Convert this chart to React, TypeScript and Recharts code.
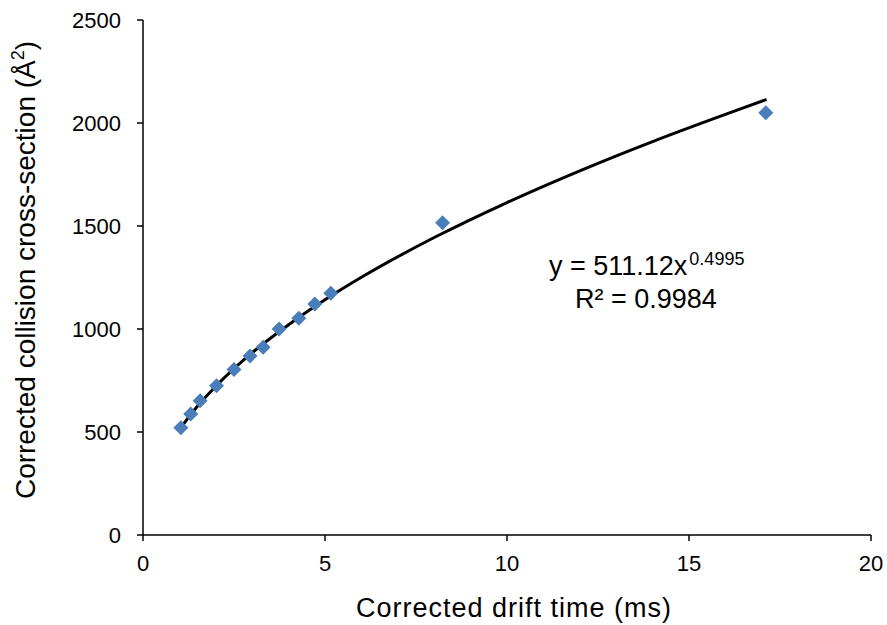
import React from "react";
import { ComposedChart, Line, Scatter, XAxis, YAxis } from "recharts";

// measured points (drift time ms, CCS Å²)
const driftTimes = [1.04, 1.31, 1.57, 2.02, 2.5, 2.94, 3.3, 3.74, 4.28, 4.72, 5.16, 8.23, 17.11];
const ccsValues = [521, 587, 652, 725, 804, 869, 911, 1000, 1052, 1121, 1173, 1516, 2050];

// power trendline
const fitX = [1.04, 1.5, 2, 3, 4, 5, 6, 8, 10, 12, 14, 16, 17.13];
const fitY = [521, 626, 722, 885, 1021, 1142, 1251, 1444, 1614, 1768, 1910, 2042, 2114];

const xTicks = [0, 5, 10, 15, 20];
const yTicks = [0, 500, 1000, 1500, 2000, 2500];

const points = driftTimes.map((t, i) => ({ x: t, y: ccsValues[i] }));
const fit = fitX.map((t, i) => ({ x: t, y: fitY[i] }));

const FONT = "'Liberation Sans', Arial, sans-serif";

const Diamond = (props: any) => {
  const { cx, cy } = props;
  const r = 7.5;
  return (
    <polygon
      points={`${cx},${cy - r} ${cx + r},${cy} ${cx},${cy + r} ${cx - r},${cy}`}
      fill="#4A7EBB"
    />
  );
};

export default function App() {
  return (
    <div style={{ position: "absolute", left: 0, top: 0, width: 887, height: 625, background: "#fff" }}>
      <ComposedChart
        width={887}
        height={625}
        margin={{ top: 20, right: 16, bottom: 50, left: 80 }}
      >
        <XAxis
          type="number"
          dataKey="x"
          domain={[0, 20]}
          ticks={xTicks}
          height={40}
          stroke="#000"
          strokeWidth={1.5}
          tickSize={6}
          tickMargin={14}
          tick={{ fill: "#000", fontSize: 22, fontFamily: FONT }}
        />
        <YAxis
          type="number"
          dataKey="y"
          domain={[0, 2500]}
          ticks={yTicks}
          width={63}
          stroke="#000"
          strokeWidth={1.5}
          tickSize={6}
          tickMargin={16}
          tick={{ fill: "#000", fontSize: 22, fontFamily: FONT }}
        />
        <Scatter data={points} dataKey="y" shape={<Diamond />} isAnimationActive={false} />
        <Line
          data={fit}
          dataKey="y"
          type="monotone"
          stroke="#000"
          strokeWidth={3}
          dot={false}
          activeDot={false}
          isAnimationActive={false}
        />
      </ComposedChart>
      <svg
        width={887}
        height={625}
        style={{ position: "absolute", left: 0, top: 0, pointerEvents: "none" }}
        fontFamily={FONT}
        fill="#000"
      >
        <text x={514} y={617} fontSize={27} textAnchor="middle" letterSpacing={1}>
          Corrected drift time (ms)
        </text>
        <text x={35} y={270} fontSize={28} textAnchor="middle" transform="rotate(-90 35 270)">
          Corrected collision cross-section (Å
          <tspan fontSize={18} dy={-11}>2</tspan>
          <tspan dy={11}>)</tspan>
        </text>
        <text x={549} y={275} fontSize={27}>
          y = 511.12x
          <tspan fontSize={18} dy={-10} dx={2}>0.4995</tspan>
        </text>
        <text x={575} y={308} fontSize={27}>
          R² = 0.9984
        </text>
      </svg>
    </div>
  );
}
